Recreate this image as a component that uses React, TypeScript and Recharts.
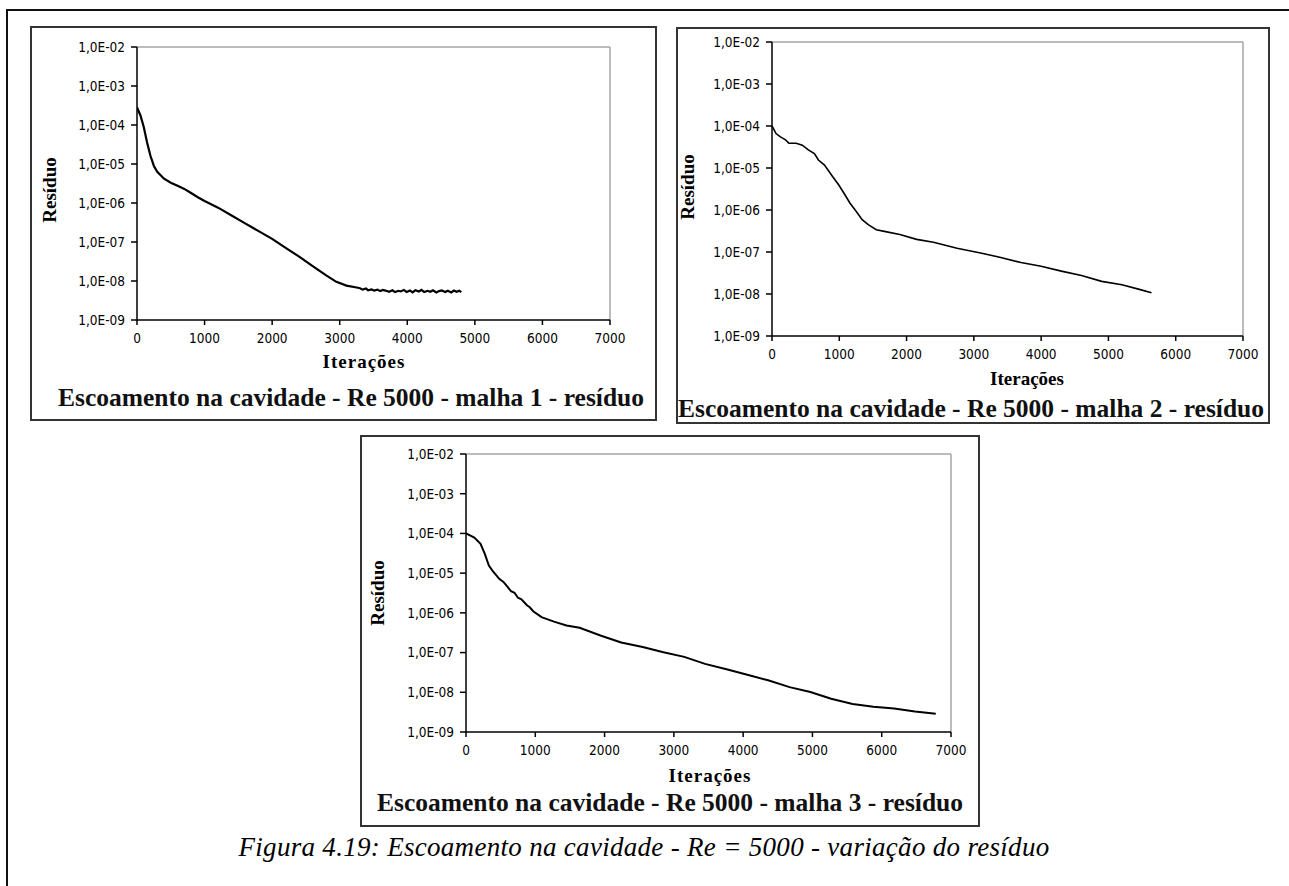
import React from 'react';
import { LineChart, Line, XAxis, YAxis, ReferenceLine } from 'recharts';

// iterations / residual
const iterMalha1 = [0, 50, 100, 150, 200, 250, 300, 400, 500, 600, 700, 800, 900, 1000, 1200, 1400, 1600, 1800, 2000, 2200, 2400, 2600, 2800, 2950, 3100, 3250, 3300, 3340, 3390, 3420, 3470, 3510, 3560, 3600, 3640, 3690, 3730, 3780, 3820, 3870, 3900, 3950, 3990, 4040, 4080, 4120, 4170, 4210, 4250, 4300, 4340, 4380, 4430, 4470, 4510, 4560, 4600, 4650, 4690, 4730, 4770, 4800];
const resMalha1 = [2.8e-4, 1.78e-4, 8.9e-5, 3.5e-5, 1.6e-5, 8.9e-6, 6.3e-6, 4.2e-6, 3.3e-6, 2.75e-6, 2.3e-6, 1.8e-6, 1.4e-6, 1.12e-6, 7.6e-7, 4.8e-7, 3.0e-7, 1.9e-7, 1.2e-7, 7.1e-8, 4.2e-8, 2.4e-8, 1.4e-8, 9.5e-9, 7.6e-9, 6.8e-9, 6.5e-9, 6.0e-9, 6.4e-9, 5.8e-9, 6.1e-9, 5.7e-9, 6.0e-9, 5.5e-9, 5.9e-9, 5.6e-9, 5.3e-9, 5.8e-9, 5.2e-9, 5.6e-9, 5.4e-9, 5.9e-9, 5.2e-9, 5.7e-9, 5.1e-9, 5.8e-9, 5.4e-9, 5.9e-9, 5.2e-9, 5.6e-9, 5.3e-9, 5.8e-9, 5.1e-9, 5.5e-9, 5.7e-9, 5.2e-9, 5.6e-9, 5.1e-9, 5.7e-9, 5.3e-9, 5.6e-9, 5.2e-9];

const iterMalha2 = [0, 60, 120, 200, 250, 360, 450, 540, 630, 690, 780, 900, 990, 1070, 1160, 1250, 1340, 1430, 1550, 1670, 1900, 2150, 2400, 2750, 3100, 3400, 3700, 4000, 4300, 4600, 4900, 5200, 5460, 5640];
const resMalha2 = [1.0e-4, 6.6e-5, 5.6e-5, 4.7e-5, 3.9e-5, 3.9e-5, 3.5e-5, 2.7e-5, 2.2e-5, 1.55e-5, 1.17e-5, 6.3e-6, 4.0e-6, 2.5e-6, 1.45e-6, 9.3e-7, 5.9e-7, 4.5e-7, 3.4e-7, 3.1e-7, 2.6e-7, 2.0e-7, 1.7e-7, 1.23e-7, 9.5e-8, 7.4e-8, 5.6e-8, 4.6e-8, 3.5e-8, 2.75e-8, 2.0e-8, 1.66e-8, 1.29e-8, 1.07e-8];

const iterMalha3 = [0, 120, 210, 270, 330, 390, 480, 540, 600, 650, 700, 750, 800, 880, 920, 970, 1090, 1270, 1450, 1640, 1940, 2240, 2550, 2850, 3150, 3450, 3760, 4060, 4360, 4670, 4970, 5270, 5580, 5880, 6180, 6480, 6780];
const resMalha3 = [1.0e-4, 7.9e-5, 5.5e-5, 3.1e-5, 1.55e-5, 1.1e-5, 7.2e-6, 6.0e-6, 4.5e-6, 3.5e-6, 3.2e-6, 2.4e-6, 2.2e-6, 1.55e-6, 1.38e-6, 1.1e-6, 7.8e-7, 6.0e-7, 4.8e-7, 4.2e-7, 2.7e-7, 1.8e-7, 1.38e-7, 1.02e-7, 7.8e-8, 5.2e-8, 3.8e-8, 2.75e-8, 2.0e-8, 1.35e-8, 1.02e-8, 6.9e-9, 5.1e-9, 4.3e-9, 3.9e-9, 3.3e-9, 2.9e-9];

const xTicks = [0, 1000, 2000, 3000, 4000, 5000, 6000, 7000];
const yTicks = [1e-2, 1e-3, 1e-4, 1e-5, 1e-6, 1e-7, 1e-8, 1e-9];

const titles = [
  'Escoamento na cavidade - Re 5000 - malha 1 - resíduo',
  'Escoamento na cavidade - Re 5000 - malha 2 - resíduo',
  'Escoamento na cavidade - Re 5000 - malha 3 - resíduo',
];
const caption = 'Figura 4.19: Escoamento na cavidade - Re = 5000 - variação do resíduo';

const toRows = (iters: number[], res: number[]) => iters.map((it, i) => ({ it, r: res[i] }));

const fmtY = (v: number) => {
  const e = Math.round(-Math.log10(v));
  return `1,0E-${e < 10 ? '0' + e : e}`;
};

const serif = "'Liberation Serif', 'Times New Roman', serif";
const tickFont = { fontFamily: "'Liberation Sans Narrow', 'DejaVu Sans Condensed', 'Liberation Sans', sans-serif", fontSize: 13.5, fill: '#000' };

type PanelProps = {
  box: { left: number; top: number; width: number; height: number };
  plot: { left: number; top: number; width: number; height: number };
  rows: { it: number; r: number }[];
  strokeWidth: number;
  title: string;
  titlePos: { x: number; y: number; spacing?: number };
  xLabel: { x: number; y: number; spacing?: number };
  yLabel: { x: number; y: number };
};

const Panel: React.FC<PanelProps> = ({ box, plot, rows, strokeWidth, title, titlePos, xLabel, yLabel }) => {
  const YW = 100;
  return (
    <>
      <div style={{ position: 'absolute', left: box.left, top: box.top, width: box.width, height: box.height, border: '2px solid #333', boxSizing: 'border-box', background: '#fff' }} />
      <div style={{ position: 'absolute', left: plot.left - YW, top: plot.top - 10 }}>
        <LineChart width={plot.width + YW + 20} height={plot.height + 40} data={rows} margin={{ top: 10, right: 20, left: 0, bottom: 0 }}>
          <XAxis dataKey="it" type="number" domain={[0, 7000]} ticks={xTicks} height={30} tick={tickFont} tickSize={5} tickMargin={8} stroke="#000" strokeWidth={1.5} allowDataOverflow />
          <YAxis dataKey="r" type="number" scale="log" domain={[1e-9, 1e-2]} ticks={yTicks} width={YW} tick={tickFont} tickFormatter={fmtY} tickSize={6} tickMargin={6} stroke="#000" strokeWidth={1.5} allowDataOverflow />
          <ReferenceLine y={1e-2} stroke="#a6a6a6" strokeWidth={1.5} />
          <ReferenceLine x={7000} stroke="#a6a6a6" strokeWidth={1.5} />
          <Line dataKey="r" type="linear" stroke="#000" strokeWidth={strokeWidth} dot={false} isAnimationActive={false} />
        </LineChart>
      </div>
      <div style={{ position: 'absolute', left: xLabel.x, top: xLabel.y, transform: 'translate(-50%, -50%)', fontFamily: serif, fontWeight: 700, fontSize: 19, letterSpacing: xLabel.spacing ?? 0, whiteSpace: 'nowrap' }}>Iterações</div>
      <div style={{ position: 'absolute', left: yLabel.x, top: yLabel.y, transform: 'translate(-50%, -50%) rotate(-90deg)', fontFamily: serif, fontWeight: 700, fontSize: 19, whiteSpace: 'nowrap' }}>Resíduo</div>
      <div style={{ position: 'absolute', left: titlePos.x, top: titlePos.y, transform: 'translate(-50%, -50%)', fontFamily: serif, fontWeight: 700, fontSize: 25.5, letterSpacing: titlePos.spacing ?? 0, color: '#111', whiteSpace: 'nowrap' }}>{title}</div>
    </>
  );
};

export default function App() {
  return (
    <div style={{ position: 'absolute', left: 0, top: 0, width: 1289, height: 886, overflow: 'hidden', background: '#fff' }}>
      <div style={{ position: 'absolute', left: 6, top: 9, width: 1400, height: 1000, borderTop: '2px solid #111', borderLeft: '2px solid #111' }} />
      <Panel
        box={{ left: 30, top: 26, width: 627, height: 395 }}
        plot={{ left: 137, top: 47, width: 473, height: 273 }}
        rows={toRows(iterMalha1, resMalha1)}
        strokeWidth={2.2}
        title={titles[0]}
        titlePos={{ x: 351, y: 398 }}
        xLabel={{ x: 364, y: 362, spacing: 1 }}
        yLabel={{ x: 50, y: 190 }}
      />
      <Panel
        box={{ left: 676, top: 27, width: 594, height: 397 }}
        plot={{ left: 772, top: 42, width: 471, height: 294 }}
        rows={toRows(iterMalha2, resMalha2)}
        strokeWidth={1.6}
        title={titles[1]}
        titlePos={{ x: 971, y: 409 }}
        xLabel={{ x: 1027, y: 379 }}
        yLabel={{ x: 688, y: 187 }}
      />
      <Panel
        box={{ left: 360, top: 435, width: 620, height: 392 }}
        plot={{ left: 466, top: 454, width: 485, height: 278 }}
        rows={toRows(iterMalha3, resMalha3)}
        strokeWidth={2}
        title={titles[2]}
        titlePos={{ x: 670, y: 803 }}
        xLabel={{ x: 710, y: 776, spacing: 1 }}
        yLabel={{ x: 378, y: 593 }}
      />
      <div style={{ position: 'absolute', left: 644, top: 847, transform: 'translate(-50%, -50%)', fontFamily: serif, fontStyle: 'italic', fontSize: 27, letterSpacing: 0.3, whiteSpace: 'nowrap' }}>{caption}</div>
    </div>
  );
}
